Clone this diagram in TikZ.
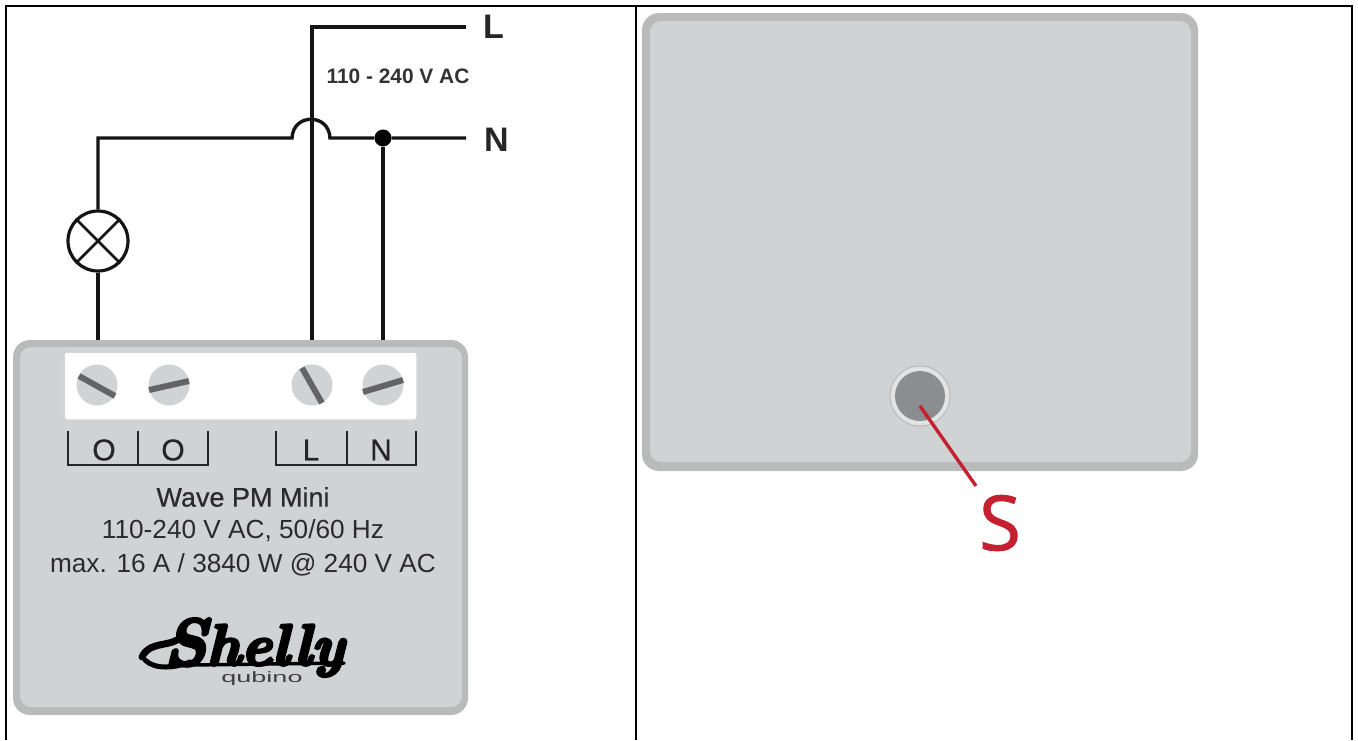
\documentclass[tikz,border=0pt]{standalone}
\usepackage{fontspec}
\setmainfont{Liberation Sans}
\newfontfamily\scar[FakeBold=1.2]{Open Sans}
\newfontfamily\logofont[BoldItalicFeatures={FakeBold=5},ItalicFeatures={FakeBold=5}]{Latin Modern Roman}
\newfontfamily\medium[FakeBold=0.6]{Liberation Sans}
\newfontfamily\wide[FakeStretch=1.8]{Liberation Sans}
\definecolor{bodygray}{HTML}{D0D3D4}
\definecolor{edgegray}{HTML}{B8BBBA}
\definecolor{slotgray}{HTML}{636466}
\definecolor{btngray}{HTML}{8C8D8E}
\definecolor{ringgray}{HTML}{E2E4E4}
\definecolor{redline}{HTML}{C4202F}
\definecolor{textdark}{HTML}{2B2B2B}
\tikzset{
  wire/.style={line width=3.4pt,black!92},
  frameline/.style={line width=2.2pt,black},
  caseout/.style={fill=edgegray,rounded corners=17pt},
  casein/.style={fill=bodygray,rounded corners=11pt},
  screw/.style={circle,fill=bodygray,draw=none,minimum size=41pt,inner sep=0pt},
  slot/.style={line width=6pt,slotgray},
  bracket/.style={line width=2.5pt,black!85},
  term/.style={font=\medium\fontsize{30}{30}\selectfont,text=black!85,inner sep=0pt},
  info/.style={font=\fontsize{26.2}{28}\selectfont,text=textdark,inner sep=0pt},
  letter/.style={font=\fontsize{34}{34}\selectfont\bfseries,text=black!85,inner sep=0pt},
}
\begin{document}
\begin{tikzpicture}[x=1pt,y=-1pt]
\useasboundingbox (0,0) rectangle (1358,740);
\fill[white] (0,0) rectangle (1358,740);
% table frame
\draw[frameline] (6,740) -- (6,6) -- (1352,6) -- (1352,740);
\draw[frameline] (636,6) -- (636,740);
% left device
\fill[caseout] (13,340) rectangle (468,715);
\fill[casein] (20,347) rectangle (462,707);
\fill[white,draw=edgegray!60,line width=1.5pt,rounded corners=3pt] (64,352) rectangle (417,420);
\coordinate (lamptop) at (98,138);
\coordinate (lampbot) at (98,340);
\coordinate (Lin) at (312,340);
\coordinate (Nin) at (383,340);
\coordinate (Lend) at (466,27);
\coordinate (Nend) at (466,138);
\coordinate (corner) at (312,27);
\coordinate (hopL) at (292,138);
\coordinate (hopR) at (330,138);
\node[circle,fill=black,minimum size=17pt,inner sep=0pt] (dot) at (383,138) {};
\node[circle,draw=black!92,line width=3.2pt,fill=white,minimum size=60pt,inner sep=0pt] (lamp) at (98,241) {};
% wires
\draw[wire] (Lin) -- (corner) -- (Lend);
\draw[wire] (lamp.north) -- (lamptop) -- (hopL) .. controls (293,113) and (329,113) .. (hopR) -- (dot) -- (Nend);
\draw[wire] (dot) -- (Nin);
\draw[wire] (lamp.south) -- (lampbot);
\draw[line width=2.6pt,black!92] (lamp.north west) -- (lamp.south east) (lamp.north east) -- (lamp.south west);
\node[letter,anchor=west] (labL) at (483,27) {L};
\node[letter,anchor=west] (labN) at (484,140) {N};
\node[font=\fontsize{20.9}{20}\selectfont\bfseries,text=black!80,inner sep=0pt] (volt) at (398,76) {110 - 240 V AC};
% screws
\node[screw] (s1) at (97,385) {};
\node[screw] (s2) at (169,385) {};
\node[screw] (s3) at (312,385) {};
\node[screw] (s4) at (383,385) {};
\draw[slot] (79,376) -- (115,396);
\draw[slot] (149,390) -- (189,381);
\draw[slot] (302,368) -- (322,403);
\draw[slot] (363,392) -- (403,380);
% brackets
\draw[bracket] (68,431) -- (68,465) -- (208,465) -- (208,431);
\draw[bracket] (138,431) -- (138,465);
\draw[bracket] (276,431) -- (276,465) -- (416,465) -- (416,431);
\draw[bracket] (347,431) -- (347,465);
\node[term] (o1) at (104,450) {O};
\node[term] (o2) at (173,450) {O};
\node[term] (tl) at (311,450) {L};
\node[term] (tn) at (381,450) {N};
\node[info,font=\medium\fontsize{27}{28}\selectfont] (t1) at (243,497) {Wave PM Mini};
\node[info] (t2) at (243,531) {110-240 V AC, 50/60 Hz};
\node[info] (t3) at (243,565) {max. 16 A / 3840 W @ 240 V AC};
% logo
\draw[line width=7pt,black,line cap=round,line join=round] (142,657) .. controls (150,640) and (172,648) .. (182,636);
\draw[line width=5pt,black,line cap=round] (145,660) .. controls (155,670) and (175,668) .. (190,662);
\draw[line width=3.5pt,black,line cap=round] (190,665) -- (344,663);
\node[inner sep=0pt,text=black,font=\logofont\fontsize{58}{58}\selectfont\bfseries\itshape,anchor=base] (shelly) at (254,665) {{\fontsize{66}{66}\selectfont S}helly};
\node[inner sep=0pt,text=black!75,font=\wide\fontsize{15}{15}\selectfont,anchor=base] (qubino) at (262,682) {qubino};
% right device
\fill[caseout] (642,13) rectangle (1198,471);
\fill[casein] (650,21) rectangle (1191,462);
\node[circle,draw=edgegray,fill=ringgray,line width=1pt,minimum size=60pt,inner sep=0pt] (ring) at (920,396) {};
\node[circle,fill=btngray,minimum size=50pt,inner sep=0pt] (btn) at (920,396) {};
\node[inner sep=0pt,text=redline,font=\scar\fontsize{76}{76}\selectfont] (S) at (1000,523) {S};
\coordinate (Sstart) at (920,406);
\coordinate (Send) at (976,486);
\draw[redline,line width=3.4pt] (Sstart) -- (Send);
\end{tikzpicture}
\end{document}
